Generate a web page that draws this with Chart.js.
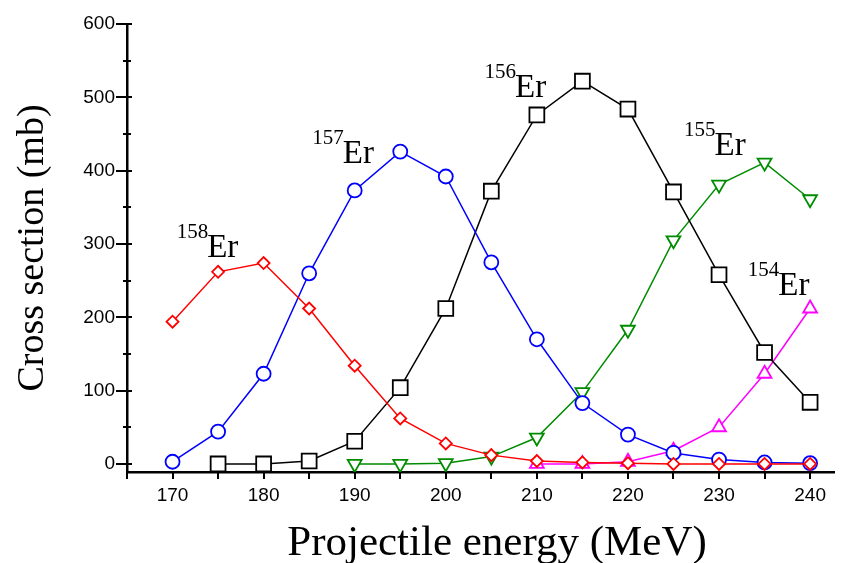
<!DOCTYPE html>
<html><head><meta charset="utf-8">
<script src="https://cdn.jsdelivr.net/npm/chart.js@4.4.1/dist/chart.umd.min.js"></script>
<style>html,body{margin:0;padding:0;background:#fff;overflow:hidden}canvas{display:block}</style>
</head><body>
<canvas id="c" width="847" height="563"></canvas>
<script>
// ---- data ----
const energies = [170,175,180,185,190,195,200,205,210,215,220,225,230,235,240];
const er158 = [194,262,274,212,134,62,28,12,4,2,1,0,0,0,0];
const er157 = [3,44,123,260,373,426,392,275,170,83,40,15,6,2,1];
const er156 = [null,0,0,4,31,104,212,372,476,522,484,371,258,152,84];
const er155 = [null,null,null,null,0,0,1,10,36,98,183,305,381,411,361];
const er154 = [null,null,null,null,null,null,null,null,0,0,3,18,50,123,212];
const seriesNames = ['158','157','156','155','154'];
const xTickValues = [165,170,175,180,185,190,195,200,205,210,215,220,225,230,235,240];
const yMajorTicks = [0,100,200,300,400,500,600];
const yMinorTicks = [50,150,250,350,450,550];
const xTitle = 'Projectile energy (MeV)';
const yTitle = 'Cross section (mb)';

// label anchors (data units): left edge / baseline of "Er"
const labelAnchorX = [173.8,188.7,207.6,229.5,236.5];
const labelAnchorY = [282,410,500,421,230];

const toXY = arr => energies.map((e,i)=>({x:e,y:arr[i]})).filter(p=>p.y!==null);

const annot = {
  id:'annot',
  afterDraw(chart){
    const ctx = chart.ctx, xs = chart.scales.x, ys = chart.scales.y, a = chart.chartArea;
    ctx.save();
    ctx.strokeStyle = '#000'; ctx.lineWidth = 2;
    ctx.beginPath();
    xTickValues.forEach(v=>{const px=Math.round(xs.getPixelForValue(v)); ctx.moveTo(px,a.bottom); ctx.lineTo(px,a.bottom+7);});
    yMajorTicks.forEach(v=>{const py=Math.round(ys.getPixelForValue(v)); ctx.moveTo(a.left-11,py); ctx.lineTo(a.left+5,py);});
    yMinorTicks.forEach(v=>{const py=Math.round(ys.getPixelForValue(v)); ctx.moveTo(a.left-4,py); ctx.lineTo(a.left+4,py);});
    ctx.stroke();
    // x axis title
    ctx.fillStyle = '#000';
    ctx.font = '43px "Liberation Serif"';
    ctx.textAlign = 'center';
    ctx.textBaseline = 'alphabetic';
    ctx.fillText(xTitle, 497, 555);
    // isotope labels
    seriesNames.forEach((n,i)=>{
      const px = xs.getPixelForValue(labelAnchorX[i]);
      const py = ys.getPixelForValue(labelAnchorY[i]);
      ctx.font = '33px "Liberation Serif"';
      ctx.textAlign = 'left';
      ctx.fillText('Er', px, py);
      ctx.font = '21px "Liberation Serif"';
      ctx.textAlign = 'right';
      ctx.fillText(n, px+1, py-19);
    });
    ctx.restore();
  }
};

const ds = (label, arr, color, style, radius, rot) => ({
  label, data: toXY(arr), borderColor: color, backgroundColor: '#fff',
  borderWidth: 1.5, pointStyle: style, pointRadius: radius, pointRotation: rot||0,
  pointBorderWidth: 1.8, pointBorderColor: color, pointBackgroundColor: '#fff',
  tension: 0, clip: false
});

new Chart(document.getElementById('c'), {
  type: 'line',
  data: { datasets: [
    ds('158Er', er158, '#ff0000', 'rectRot', 6),
    ds('157Er', er157, '#0000ff', 'circle', 7),
    ds('156Er', er156, '#000000', 'rect', 10.5),
    ds('155Er', er155, '#008c00', 'triangle', 8, 180),
    ds('154Er', er154, '#ff00ff', 'triangle', 8)
  ]},
  options: {
    responsive: false, animation: false, devicePixelRatio: 1,
    layout: { padding: { top: 24, right: 7, left: 0, bottom: 0 } },
    plugins: { legend: { display: false }, tooltip: { enabled: false } },
    scales: {
      x: {
        type: 'linear', min: 165, max: 242.7,
        afterBuildTicks: s => { s.ticks = xTickValues.map(v=>({value:v})); },
        afterFit: s => { s.height = 91; s.paddingLeft = 0; s.paddingRight = 0; },
        grid: { display: false, drawTicks: false },
        border: { display: true, color: '#000', width: 2.5 },
        ticks: { color: '#000', padding: 12, maxRotation: 0, autoSkip: false,
          font: { family: '"Liberation Sans"', size: 19 },
          callback: v => (v % 10 === 0 ? String(v) : '') },
        title: { display: false, text: xTitle }
      },
      y: {
        type: 'linear', min: -11, max: 600,
        afterBuildTicks: s => { s.ticks = yMajorTicks.map(v=>({value:v})); },
        afterFit: s => { s.width = 127; },
        grid: { display: false, drawTicks: false },
        border: { display: true, color: '#000', width: 2.5 },
        ticks: { color: '#000', padding: 12, autoSkip: false,
          font: { family: '"Liberation Sans"', size: 19 } },
        title: { display: true, text: yTitle, color: '#000',
          font: { family: '"Liberation Serif"', size: 38, lineHeight: 1.2 }, padding: { top: 10, bottom: 0 } }
      }
    }
  },
  plugins: [annot]
});
</script>
</body></html>
